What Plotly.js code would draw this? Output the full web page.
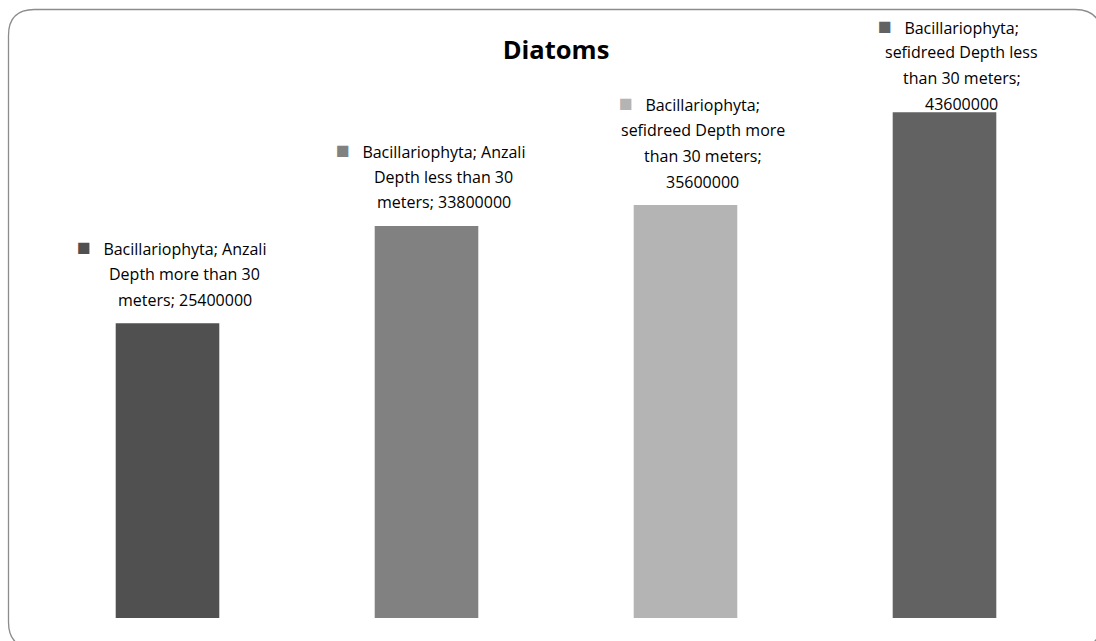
<!DOCTYPE html>
<html><head><meta charset="utf-8">
<script src="https://cdn.plot.ly/plotly-3.0.1.min.js"></script>
<style>html,body{margin:0;padding:0;background:#fff}#chart{width:1096px;height:641px}</style>
</head><body><div id="chart"></div>
<script>
const chartTitle = 'Diatoms';
const seriesName = 'Bacillariophyta';
const categories = ['Anzali Depth more than 30 meters', 'Anzali Depth less than 30 meters', 'sefidreed Depth more than 30 meters', 'sefidreed Depth less than 30 meters'];
const values = [25400000, 33800000, 35600000, 43600000];
const colors = ['#505050', '#818181', '#b4b4b4', '#626262'];
const wrapChars = [23, 23, 20, 20];

const W = 1096, H = 641, M = {l: 38, r: 22, t: 38, b: 23};
const yMax = 50000000;
const plotW = W - M.l - M.r, plotH = H - M.t - M.b;
const pxY = v => M.t + (yMax - v) / yMax * plotH;
const paperX = px => (px - M.l) / plotW;
const paperY = py => 1 - (py - M.t) / plotH;

function wrap(text, n) {
  const words = text.split(' '); const lines = []; let cur = '';
  for (const w of words) {
    if (!cur) cur = w;
    else if ((cur + ' ' + w).length <= n) cur += ' ' + w;
    else { lines.push(cur); cur = w; }
  }
  if (cur) lines.push(cur);
  return lines;
}

const annotations = [];
const lineGap = 25.7, fontSize = 16;
const gap = '\u00a0\u00a0\u00a0';
categories.forEach((c, i) => {
  const lines = wrap(`${seriesName}; ${c}; ${values[i]}`, wrapChars[i]);
  const top = pxY(values[i]);
  let firstBase = top - 18 - lineGap * (lines.length - 1);
  firstBase = Math.max(firstBase, 32);
  lines.forEach((ln, k) => {
    const base = firstBase + k * lineGap;
    if (k === 0) {
      annotations.push({x: c, xref: 'x', y: paperY(base - 7.5), yref: 'paper', xanchor: 'center', yanchor: 'middle',
        xshift: 17, text: `<span style="color:${colors[i]};font-size:23px">■</span>${gap}${ln}${gap}<span style="color:rgba(0,0,0,0);font-size:23px">■</span>`,
        showarrow: false, font: {family: 'Open Sans', size: fontSize, color: '#000'}});
    } else {
      annotations.push({x: c, xref: 'x', y: paperY(base - 5.5), yref: 'paper', xanchor: 'center', yanchor: 'middle',
        xshift: 17, text: ln, showarrow: false, font: {family: 'Open Sans', size: fontSize, color: '#000'}});
    }
  });
});

const bx0 = 8.5, by0 = 9.5, bx1 = 1101, by1 = 648, rr = 26;
const P = (x, y) => paperX(x) + ',' + paperY(y);
const borderPath = `M ${P(bx0 + rr, by0)} L ${P(bx1 - rr, by0)} Q ${P(bx1, by0)} ${P(bx1, by0 + rr)} L ${P(bx1, by1 - rr)} Q ${P(bx1, by1)} ${P(bx1 - rr, by1)} L ${P(bx0 + rr, by1)} Q ${P(bx0, by1)} ${P(bx0, by1 - rr)} L ${P(bx0, by0 + rr)} Q ${P(bx0, by0)} ${P(bx0 + rr, by0)} Z`;

const trace = {type: 'bar', x: categories, y: values, marker: {color: colors}, hoverinfo: 'none', cliponaxis: false};

const layout = {
  width: W, height: H,
  margin: M,
  paper_bgcolor: '#fff', plot_bgcolor: '#fff',
  showlegend: false,
  bargap: 0.6,
  title: {text: chartTitle, x: 0.5, xref: 'paper', xanchor: 'center', y: 1 - 50 / H, yref: 'container', yanchor: 'middle',
    font: {family: 'Open Sans', size: 25.5, weight: 'bold', color: '#000'}},
  xaxis: {visible: false, range: [-0.5, 3.5], fixedrange: true},
  yaxis: {visible: false, range: [0, yMax], fixedrange: true},
  annotations: annotations,
  shapes: [{type: 'path', xref: 'paper', yref: 'paper', path: borderPath, line: {color: '#8c8c8c', width: 1.3}, layer: 'below'}]
};

Plotly.newPlot('chart', [trace], layout, {staticPlot: true, displayModeBar: false});
</script>
</body></html>
